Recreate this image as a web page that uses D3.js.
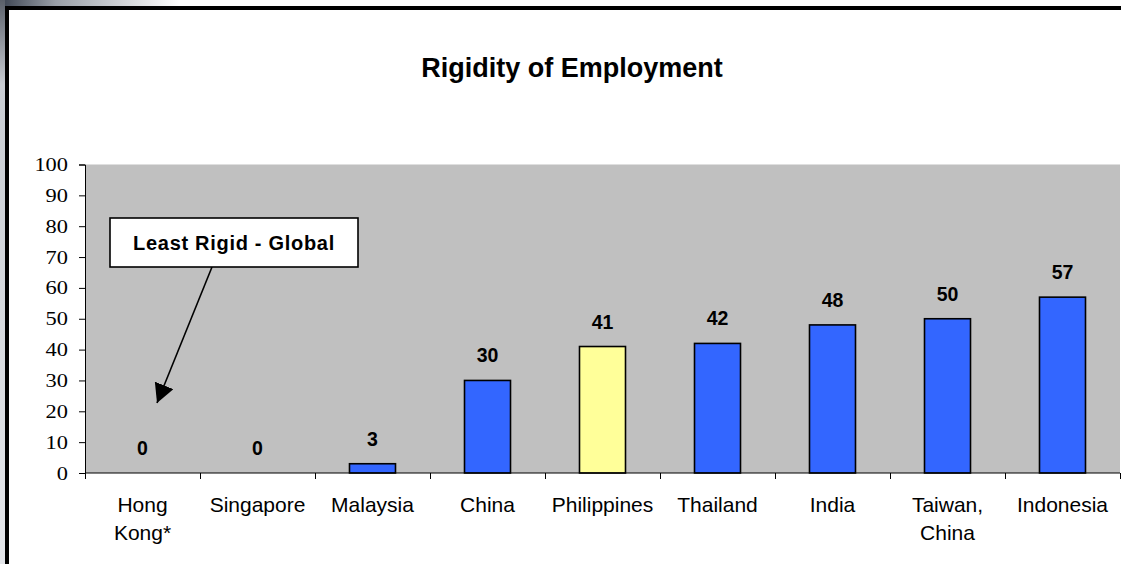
<!DOCTYPE html>
<html>
<head>
<meta charset="utf-8">
<script src="https://cdn.jsdelivr.net/npm/d3@7"></script>
<style>
  html, body { margin: 0; padding: 0; background: #fff; }
  svg { display: block; }
</style>
</head>
<body>
<svg id="chart" width="1121" height="564"></svg>
<script>
// Rigidity of employment index by economy
const categories = ["Hong Kong*", "Singapore", "Malaysia", "China", "Philippines", "Thailand", "India", "Taiwan, China", "Indonesia"];
const categoryLines = [["Hong", "Kong*"], ["Singapore"], ["Malaysia"], ["China"], ["Philippines"], ["Thailand"], ["India"], ["Taiwan,", "China"], ["Indonesia"]];
const values = [0, 0, 3, 30, 41, 42, 48, 50, 57];
const highlighted = ["Philippines"];
const yTicks = [0, 10, 20, 30, 40, 50, 60, 70, 80, 90, 100];
const titleText = "Rigidity of Employment";
const calloutText = "Least Rigid - Global";

const svg = d3.select("#chart");
const W = 1121, H = 564;

// slide-edge shading outside the frame
const defs = svg.append("defs");
const gTop = defs.append("linearGradient").attr("id", "edgeTop").attr("x1", 0).attr("x2", 1).attr("y1", 0).attr("y2", 0);
gTop.append("stop").attr("offset", "0").attr("stop-color", "#3a4250");
gTop.append("stop").attr("offset", "0.05").attr("stop-color", "#9aa0a8");
gTop.append("stop").attr("offset", "0.16").attr("stop-color", "#ffffff");
gTop.append("stop").attr("offset", "1").attr("stop-color", "#ffffff");
const gLeft = defs.append("linearGradient").attr("id", "edgeLeft").attr("x1", 0).attr("x2", 0).attr("y1", 0).attr("y2", 1);
gLeft.append("stop").attr("offset", "0").attr("stop-color", "#5a606a");
gLeft.append("stop").attr("offset", "0.15").attr("stop-color", "#c8ccd2");
gLeft.append("stop").attr("offset", "1").attr("stop-color", "#e4e6ea");
svg.append("rect").attr("x", 0).attr("y", 0).attr("width", W).attr("height", 6).attr("fill", "url(#edgeTop)");
svg.append("rect").attr("x", 0).attr("y", 0).attr("width", 5).attr("height", H).attr("fill", "url(#edgeLeft)");

// chart frame (left and top edges in view)
svg.append("rect").attr("x", 5).attr("y", 6).attr("width", W).attr("height", 4).attr("fill", "#000");
svg.append("rect").attr("x", 5).attr("y", 6).attr("width", 4).attr("height", H).attr("fill", "#000");

const plot = { left: 85, right: 1120, top: 164.5, bottom: 473 };

const x = d3.scaleBand().domain(categories).range([plot.left, plot.right]).paddingInner(0.6).paddingOuter(0.3);
const xEdges = d3.scaleLinear().domain([0, categories.length]).range([plot.left, plot.right]);
const y = d3.scaleLinear().domain([0, 100]).range([plot.bottom, plot.top]);

// plot area background
svg.append("rect")
  .attr("x", plot.left).attr("y", plot.top)
  .attr("width", plot.right - plot.left).attr("height", plot.bottom - plot.top)
  .attr("fill", "#c0c0c0");

// title
svg.append("text")
  .attr("x", 572).attr("y", 77)
  .attr("text-anchor", "middle")
  .attr("font-family", "Liberation Sans, Arial, sans-serif")
  .attr("font-weight", "bold")
  .attr("font-size", 27)
  .attr("fill", "#000")
  .text(titleText);

// bars
svg.append("g").selectAll("rect")
  .data(categories)
  .join("rect")
  .attr("x", d => x(d))
  .attr("width", x.bandwidth())
  .attr("y", (d, i) => y(values[i]))
  .attr("height", (d, i) => y(0) - y(values[i]))
  .attr("fill", d => highlighted.includes(d) ? "#ffff99" : "#3366ff")
  .attr("stroke", "#000")
  .attr("stroke-width", 1.6)
  .attr("display", (d, i) => values[i] > 0 ? null : "none");

// value labels
svg.append("g").selectAll("text")
  .data(categories)
  .join("text")
  .attr("x", d => x(d) + x.bandwidth() / 2)
  .attr("y", (d, i) => y(values[i]) - 18)
  .attr("text-anchor", "middle")
  .attr("font-family", "Liberation Sans, Arial, sans-serif")
  .attr("font-weight", "bold")
  .attr("font-size", 19.5)
  .attr("fill", "#000")
  .text((d, i) => values[i]);

// y axis (labels drawn slightly wide)
const yAxis = svg.append("g")
  .attr("transform", `translate(${plot.left},0)`)
  .call(d3.axisLeft(y).tickValues(yTicks).tickSize(6).tickPadding(10));
yAxis.select(".domain").attr("stroke", "#000").attr("stroke-width", 1);
yAxis.selectAll(".tick line").attr("stroke", "#000");
yAxis.selectAll(".tick text")
  .attr("x", 0)
  .attr("transform", "translate(-17,0) scale(1.18,1)")
  .attr("font-family", "Liberation Serif, Times New Roman, serif")
  .attr("font-size", 19)
  .attr("fill", "#000");

// x axis: baseline with ticks at category boundaries
const xAxis = svg.append("g").attr("transform", `translate(0,${plot.bottom})`);
xAxis.append("line")
  .attr("x1", plot.left).attr("x2", plot.right)
  .attr("stroke", "#000").attr("stroke-width", 1);
xAxis.selectAll("line.tick")
  .data(d3.range(categories.length + 1))
  .join("line")
  .attr("class", "tick")
  .attr("x1", i => Math.round(xEdges(i)) + 0.5).attr("x2", i => Math.round(xEdges(i)) + 0.5)
  .attr("y1", 0).attr("y2", 6)
  .attr("stroke", "#000");
const catText = xAxis.selectAll("text")
  .data(categories)
  .join("text")
  .attr("x", d => x(d) + x.bandwidth() / 2)
  .attr("y", 39)
  .attr("text-anchor", "middle")
  .attr("font-family", "Liberation Sans, Arial, sans-serif")
  .attr("font-size", 21)
  .attr("fill", "#000");
catText.selectAll("tspan")
  .data((d, i) => categoryLines[i])
  .join("tspan")
  .attr("x", function () { return d3.select(this.parentNode).attr("x"); })
  .attr("dy", (d, i) => i === 0 ? 0 : 28)
  .text(d => d);

// callout box with arrow pointing at Hong Kong
const box = { x: 110, y: 218, w: 248, h: 49 };
svg.append("defs").append("marker")
  .attr("id", "arrowHead")
  .attr("viewBox", "0 0 19 20")
  .attr("refX", 19).attr("refY", 10)
  .attr("markerWidth", 19).attr("markerHeight", 20)
  .attr("markerUnits", "userSpaceOnUse")
  .attr("orient", "auto")
  .append("path").attr("d", "M0,0 L19,10 L0,20 Z").attr("fill", "#000");
svg.append("line")
  .attr("x1", 212).attr("y1", 267)
  .attr("x2", 157).attr("y2", 403)
  .attr("stroke", "#000").attr("stroke-width", 1.6)
  .attr("marker-end", "url(#arrowHead)");
svg.append("rect")
  .attr("x", box.x).attr("y", box.y).attr("width", box.w).attr("height", box.h)
  .attr("fill", "#fff").attr("stroke", "#000").attr("stroke-width", 1.6);
svg.append("text")
  .attr("x", box.x + box.w / 2).attr("y", 250)
  .attr("text-anchor", "middle")
  .attr("font-family", "Liberation Sans, Arial, sans-serif")
  .attr("font-weight", "bold")
  .attr("font-size", 20)
  .attr("letter-spacing", 0.7)
  .attr("fill", "#000")
  .text(calloutText);
</script>
</body>
</html>
